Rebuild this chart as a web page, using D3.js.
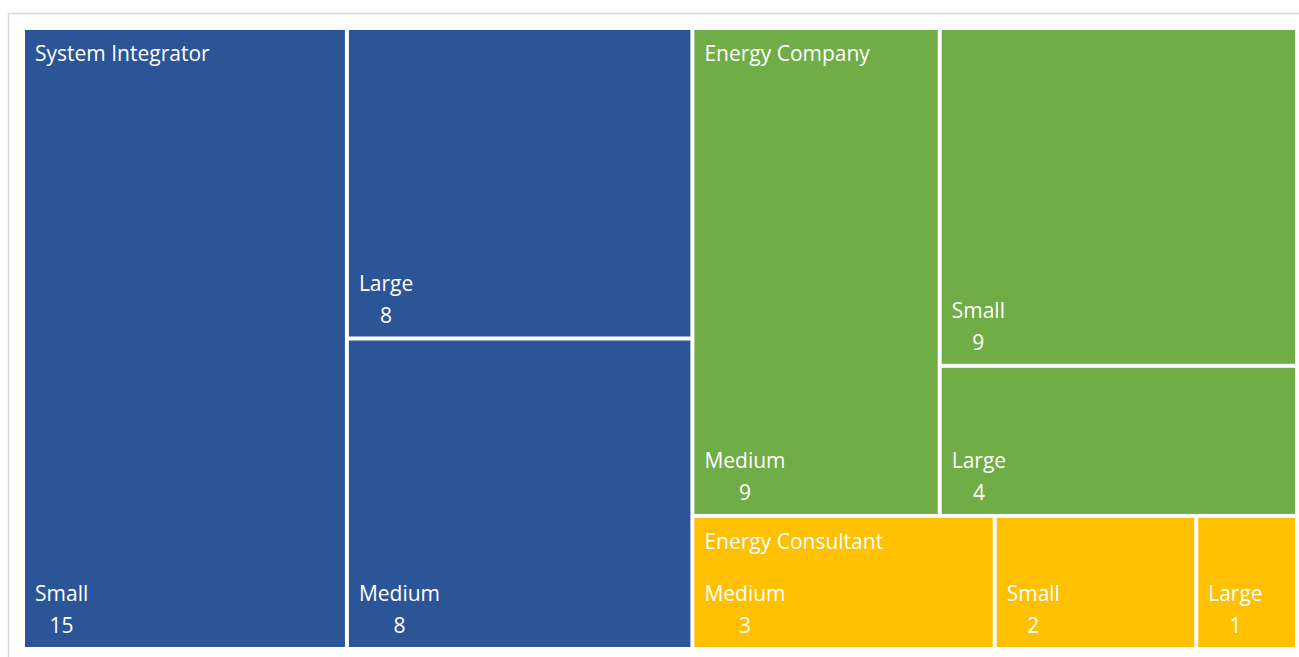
<!DOCTYPE html>
<html>
<head>
<meta charset="utf-8">
<script src="https://cdn.jsdelivr.net/npm/d3@7"></script>
<style>
  html, body { margin: 0; padding: 0; background: #ffffff; }
  svg { display: block; }
  text { font-family: "Open Sans", sans-serif; fill: #ffffff; }
</style>
</head>
<body>
<svg id="chart" width="1299" height="657"></svg>
<script>
// Company types and the size breakdown of each
const categories = ["System Integrator", "Energy Company", "Energy Consultant"];
const sizeNames = [
  ["Small", "Large", "Medium"],
  ["Medium", "Small", "Large"],
  ["Medium", "Small", "Large"]
];
const counts = [
  [15, 8, 8],
  [9, 9, 4],
  [3, 2, 1]
];
const colors = ["#2B5597", "#70AD47", "#FFC000"];

const svg = d3.select("#chart");
const W = 1299, H = 657;

// light frame around the chart area
svg.append("rect")
  .attr("x", 8.5).attr("y", 13.5)
  .attr("width", W + 10).attr("height", H + 10)
  .attr("fill", "none")
  .attr("stroke", "#d9d9d9")
  .attr("stroke-width", 1.5);

const plot = { x: 25, y: 30, w: 1270, h: 617 };

const data = {
  name: "root",
  children: categories.map((c, i) => ({
    name: c,
    children: sizeNames[i].map((s, j) => ({ name: s, value: counts[i][j] }))
  }))
};

const root = d3.hierarchy(data)
  .sum(d => d.value || 0)
  .sort((a, b) => b.value - a.value);

d3.treemap()
  .tile(d3.treemapSquarify.ratio(1))
  .size([plot.w, plot.h])
  .paddingInner(4)
  .round(false)(root);

const colorScale = d3.scaleOrdinal().domain(categories).range(colors);

const g = svg.append("g").attr("transform", `translate(${plot.x},${plot.y})`);

const leaves = g.selectAll("g.leaf")
  .data(root.leaves())
  .join("g")
  .attr("class", "leaf");

leaves.append("rect")
  .attr("x", d => d.x0)
  .attr("y", d => d.y0)
  .attr("width", d => d.x1 - d.x0)
  .attr("height", d => d.y1 - d.y0)
  .attr("fill", d => colorScale(d.parent.data.name));

const fs = 21;

leaves.each(function(d) {
  const sel = d3.select(this);
  const name = sel.append("text")
    .attr("x", d.x0 + 10)
    .attr("y", d.y1 - 46)
    .attr("font-size", fs)
    .text(d.data.name);
  const w = name.node().getComputedTextLength();
  sel.append("text")
    .attr("x", d.x0 + 10 + w / 2)
    .attr("y", d.y1 - 14)
    .attr("font-size", fs)
    .attr("text-anchor", "middle")
    .text(d.value);
});

// category titles in the top-left of each group
g.selectAll("text.cat")
  .data(root.children)
  .join("text")
  .attr("class", "cat")
  .attr("x", d => d.x0 + 10)
  .attr("y", d => d.y0 + 31)
  .attr("font-size", fs)
  .text(d => d.data.name);
</script>
</body>
</html>
